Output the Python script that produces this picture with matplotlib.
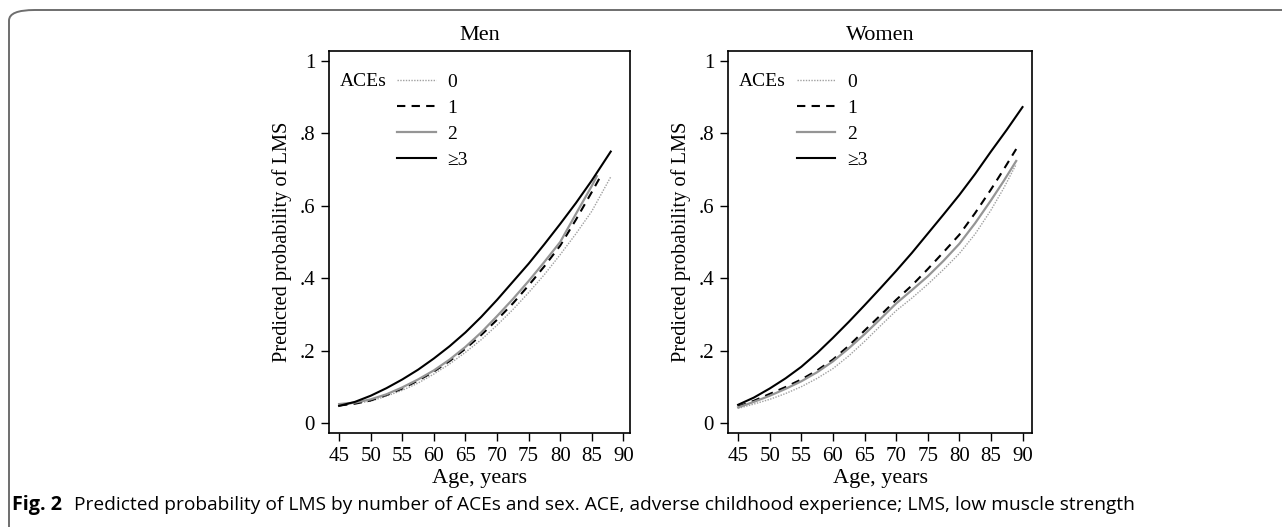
import matplotlib.pyplot as plt
from matplotlib.patches import FancyBboxPatch
from matplotlib.lines import Line2D

# values
men_age_0 = [45, 47.5, 50, 52.5, 55, 57.5, 60, 62.5, 65, 67.5, 70, 72.5, 75, 77.5, 80, 82.5, 85, 88]
men_p_0 = [0.050, 0.054, 0.060, 0.074, 0.090, 0.110, 0.135, 0.163, 0.195, 0.230, 0.270,
           0.313, 0.360, 0.410, 0.465, 0.523, 0.585, 0.680]
men_age_1 = [45, 47.5, 50, 52.5, 55, 57.5, 60, 62.5, 65, 67.5, 70, 72.5, 75, 77.5, 80, 82.5, 85, 86.5]
men_p_1 = [0.048, 0.053, 0.062, 0.077, 0.095, 0.117, 0.142, 0.171, 0.205, 0.243, 0.285,
           0.330, 0.380, 0.433, 0.490, 0.562, 0.638, 0.685]
men_age_2 = [45, 47.5, 50, 52.5, 55, 57.5, 60, 62.5, 65, 67.5, 70, 72.5, 75, 77.5, 80, 82.5, 85, 85.8]
men_p_2 = [0.052, 0.056, 0.065, 0.079, 0.098, 0.120, 0.145, 0.175, 0.210, 0.250, 0.295,
           0.342, 0.392, 0.445, 0.500, 0.578, 0.655, 0.682]
men_age_3 = [45, 47.5, 50, 52.5, 55, 57.5, 60, 62.5, 65, 67.5, 70, 72.5, 75, 77.5, 80, 82.5, 85, 88]
men_p_3 = [0.047, 0.058, 0.075, 0.096, 0.120, 0.147, 0.178, 0.212, 0.250, 0.293, 0.340,
           0.390, 0.440, 0.494, 0.550, 0.608, 0.670, 0.750]

women_age = [45, 47.5, 50, 52.5, 55, 57.5, 60, 62.5, 65, 67.5, 70, 72.5, 75, 77.5, 80, 82.5, 85, 87, 89]
women_p_0 = [0.040, 0.052, 0.065, 0.081, 0.100, 0.123, 0.150, 0.185, 0.225, 0.268, 0.310,
             0.345, 0.383, 0.424, 0.468, 0.522, 0.588, 0.648, 0.715]
women_p_1 = [0.045, 0.061, 0.080, 0.099, 0.120, 0.145, 0.175, 0.213, 0.255, 0.297, 0.340,
             0.380, 0.425, 0.472, 0.520, 0.580, 0.645, 0.700, 0.757]
women_p_2 = [0.043, 0.058, 0.075, 0.094, 0.115, 0.140, 0.170, 0.206, 0.245, 0.287, 0.330,
             0.367, 0.405, 0.448, 0.495, 0.552, 0.615, 0.668, 0.724]
women_age_3 = [45, 47.5, 50, 52.5, 55, 57.5, 60, 62.5, 65, 67.5, 70, 72.5, 75, 77.5, 80, 82.5, 85, 87.5, 90]
women_p_3 = [0.050, 0.070, 0.095, 0.123, 0.155, 0.193, 0.235, 0.279, 0.325, 0.372, 0.420,
             0.470, 0.523, 0.576, 0.630, 0.688, 0.750, 0.810, 0.873]

ace_labels = ['0', '1', '2', '≥3']
x_ticks = [45, 50, 55, 60, 65, 70, 75, 80, 85, 90]
y_ticks = [0, 0.2, 0.4, 0.6, 0.8, 1]
y_ticklabels = ['0', '.2', '.4', '.6', '.8', '1']

styles = [
    dict(color='#a0a0a0', linestyle=(0, (1, 1)), linewidth=1.0),
    dict(color='black', linestyle=(0, (4, 3)), linewidth=1.5),
    dict(color='#959595', linestyle='-', linewidth=1.6),
    dict(color='black', linestyle='-', linewidth=1.5),
]

plt.rcParams['font.family'] = ['Liberation Serif', 'DejaVu Serif']

fig = plt.figure(figsize=(12.82, 5.27), dpi=100)

# outer frame of the figure panel
frame = FancyBboxPatch((9 / 1282, -0.2), 1.2, 1.2 - 10 / 527,
                       boxstyle='round,pad=0,rounding_size=0.02',
                       transform=fig.transFigure, fill=False,
                       edgecolor='#6e6e6e', linewidth=1.4)
fig.patches.append(frame)

ax_men = fig.add_axes([329 / 1282, 1 - 433 / 527, 301 / 1282, 382 / 527])
ax_women = fig.add_axes([728 / 1282, 1 - 433 / 527, 304 / 1282, 382 / 527])

men_series = [(men_age_0, men_p_0), (men_age_1, men_p_1),
              (men_age_2, men_p_2), (men_age_3, men_p_3)]
women_series = [(women_age, women_p_0), (women_age, women_p_1),
                (women_age, women_p_2), (women_age_3, women_p_3)]

for ax, series, title, xmax in [(ax_men, men_series, 'Men', 91.05),
                                (ax_women, women_series, 'Women', 91.5)]:
    for (age, p), st in zip(series, styles):
        ax.plot(age, p, **st)
    ax.set_xlim(43.4, xmax)
    ax.set_ylim(-0.028, 1.028)
    ax.set_xticks(x_ticks)
    ax.set_yticks(y_ticks)
    ax.set_yticklabels(y_ticklabels)
    ax.tick_params(axis='both', direction='out', length=6, width=1,
                   labelsize=15, colors='black')
    ax.tick_params(axis='y', pad=4)
    ax.tick_params(axis='x', pad=4)
    for s in ax.spines.values():
        s.set_linewidth(1.2)
    ax.set_xlabel('Age, years', fontsize=16, labelpad=2)
    ax.set_ylabel('Predicted probability of LMS', fontsize=14.7, labelpad=5)
    ax.set_title(title, fontsize=16, pad=8)

    handles = [Line2D([], [], **st) for st in styles]
    ax.legend(handles, ace_labels, loc='upper left',
              bbox_to_anchor=(0.2, 0.961), frameon=False, fontsize=14,
              handlelength=2.0, handletextpad=0.6, labelspacing=0.42,
              borderaxespad=0)
    ax.text(0.035, 0.921, 'ACEs', transform=ax.transAxes, fontsize=14,
            va='center', ha='left')

cap_y = 1 - 505 / 527
fig.text(12 / 1282, cap_y, 'Fig. 2', fontsize=14.2, fontweight='bold',
         family=['Open Sans', 'DejaVu Sans'], va='center')
fig.text(74 / 1282, cap_y,
         'Predicted probability of LMS by number of ACEs and sex. '
         'ACE, adverse childhood experience; LMS, low muscle strength',
         fontsize=13.8, family=['Open Sans', 'DejaVu Sans'], va='center')

fig.savefig('out.png', dpi=100)
